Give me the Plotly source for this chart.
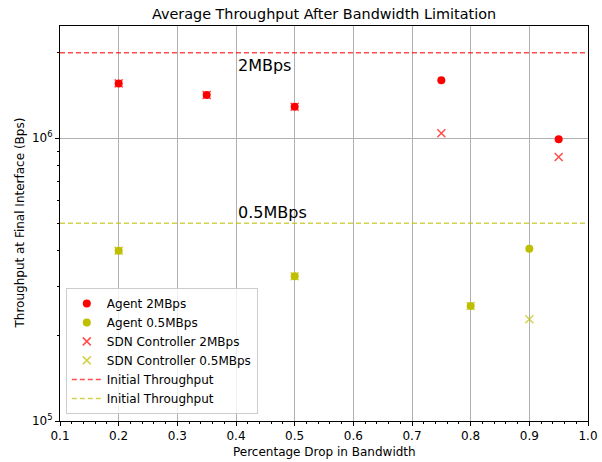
import math
import plotly.graph_objects as go

# Measured throughput at the final interface vs. bandwidth drop
agent_2m_x = [0.2, 0.35, 0.5, 0.75, 0.95]
agent_2m_y = [1.56e6, 1.42e6, 1.29e6, 1.60e6, 0.99e6]

agent_05m_x = [0.2, 0.5, 0.8, 0.9]
agent_05m_y = [4.0e5, 3.25e5, 2.55e5, 4.06e5]

sdn_2m_x = [0.2, 0.35, 0.5, 0.75, 0.95]
sdn_2m_y = [1.56e6, 1.42e6, 1.29e6, 1.04e6, 0.857e6]

sdn_05m_x = [0.2, 0.5, 0.8, 0.9]
sdn_05m_y = [4.0e5, 3.25e5, 2.55e5, 2.29e5]

# Initial (pre-limitation) throughput levels
initial_2m = 2.0e6
initial_05m = 5.0e5
x_span = [0.1, 1.0]

# Text labels for the two bandwidth levels
level_labels = ["2MBps", "0.5MBps"]
level_label_x = [0.4, 0.4]
level_label_y = [1.71e6, 5.18e5]

RED = "#ff0000"
YEL = "#bfbf00"
RED_A = "rgba(255,0,0,0.7)"
YEL_A = "rgba(191,191,0,0.7)"
FONT = "DejaVu Sans"

fig = go.Figure()
fig.add_trace(go.Scatter(x=agent_2m_x, y=agent_2m_y, mode="markers", name="Agent 2MBps",
                         marker=dict(symbol="circle", size=8, color=RED)))
fig.add_trace(go.Scatter(x=agent_05m_x, y=agent_05m_y, mode="markers", name="Agent 0.5MBps",
                         marker=dict(symbol="circle", size=8, color=YEL)))
fig.add_trace(go.Scatter(x=sdn_2m_x, y=sdn_2m_y, mode="markers", name="SDN Controller 2MBps",
                         marker=dict(symbol="x-thin", size=8, color=RED_A,
                                     line=dict(width=1.5, color=RED_A))))
fig.add_trace(go.Scatter(x=sdn_05m_x, y=sdn_05m_y, mode="markers", name="SDN Controller 0.5MBps",
                         marker=dict(symbol="x-thin", size=8, color=YEL_A,
                                     line=dict(width=1.5, color=YEL_A))))
fig.add_trace(go.Scatter(x=x_span, y=[initial_2m, initial_2m], mode="lines", name="Initial Throughput",
                         line=dict(color=RED_A, dash="5px,3px", width=1.5)))
fig.add_trace(go.Scatter(x=x_span, y=[initial_05m, initial_05m], mode="lines", name="Initial Throughput",
                         line=dict(color=YEL_A, dash="5px,3px", width=1.5)))

# annotation y on a log axis is given in log10 units
for txt, lx, ly in zip(level_labels, level_label_x, level_label_y):
    fig.add_annotation(x=lx, y=math.log10(ly), xref="x", yref="y", text=txt, showarrow=False,
                       xanchor="left", yanchor="bottom", yshift=-5,
                       font=dict(family=FONT, size=16, color="black"))

# axis titles placed directly in pixel-relative paper space
fig.add_annotation(x=0.5, y=-(452 - 421) / 395, xref="paper", yref="paper",
                   text="Percentage Drop in Bandwidth", showarrow=False,
                   xanchor="center", yanchor="middle", font=dict(family=FONT, size=12))
fig.add_annotation(x=-(60 - 19) / 528, y=0.5, xref="paper", yref="paper",
                   text="Throughput at Final Interface (Bps)", showarrow=False, textangle=-90,
                   xanchor="center", yanchor="middle", font=dict(family=FONT, size=12))

fig.update_layout(
    width=602, height=462,
    margin=dict(l=60, r=14, t=26, b=41, autoexpand=False),
    paper_bgcolor="white", plot_bgcolor="white",
    font=dict(family=FONT, size=12, color="black"),
    title=dict(text="Average Throughput After Bandwidth Limitation", x=0.5, xref="paper",
               y=1 - 14 / 462, yanchor="middle", font=dict(family=FONT, size=14.4)),
    showlegend=True,
    legend=dict(x=0.011, y=0.018, xanchor="left", yanchor="bottom",
                bgcolor="rgba(255,255,255,0.8)", bordercolor="#cccccc", borderwidth=1,
                font=dict(family=FONT, size=12), tracegroupgap=0),
)

fig.update_xaxes(
    range=[0.1, 1.0], tickvals=[0.1 * i for i in range(1, 11)],
    ticktext=["0.1", "0.2", "0.3", "0.4", "0.5", "0.6", "0.7", "0.8", "0.9", "1.0"],
    tickfont=dict(family=FONT, size=12),
    showgrid=True, gridcolor="#b0b0b0", gridwidth=1,
    showline=True, linecolor="black", linewidth=1, mirror=True,
    ticks="outside", ticklen=4, tickcolor="black", zeroline=False, automargin=False,
    minor=dict(tickvals=[0.1 + 0.02 * i for i in range(46)], ticks="outside", ticklen=2,
               tickcolor="black", showgrid=False),
)
fig.update_yaxes(
    type="log", range=[5, 6.396],
    tickvals=[1e5, 1e6], ticktext=["10<sup>5</sup>", "10<sup>6</sup>"],
    tickfont=dict(family=FONT, size=12),
    showgrid=True, gridcolor="#b0b0b0", gridwidth=1,
    showline=True, linecolor="black", linewidth=1, mirror=True,
    ticks="outside", ticklen=4, tickcolor="black", zeroline=False, automargin=False,
    minor=dict(tickvals=[k * 1e5 for k in range(2, 10)] + [2e6],
               ticks="outside", ticklen=2, tickcolor="black", showgrid=False),
)

fig.write_html("out.html")
